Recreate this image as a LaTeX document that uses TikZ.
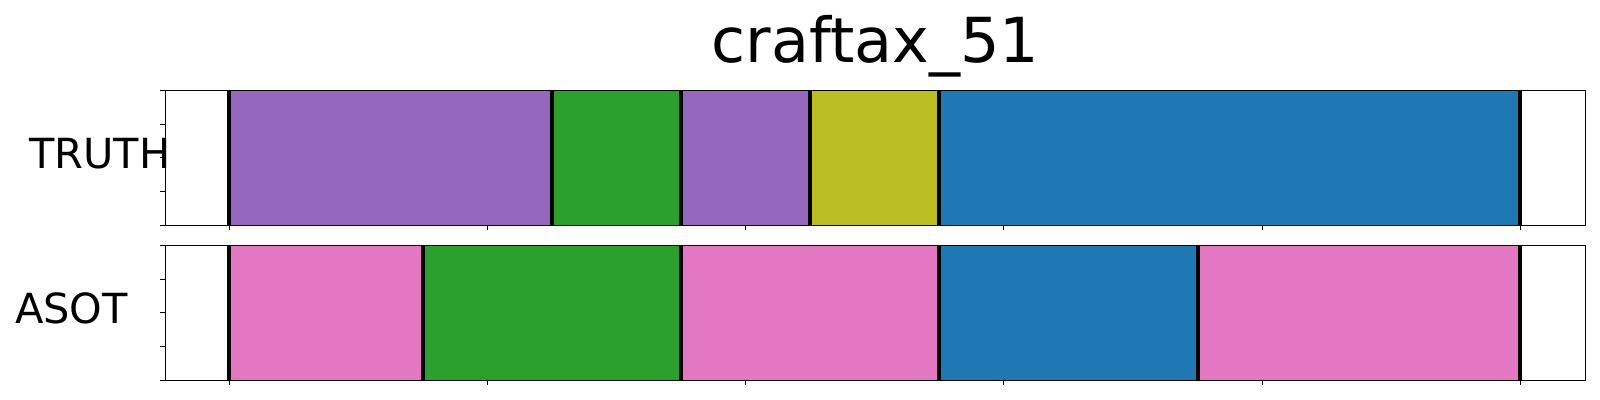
\documentclass[tikz,border=0pt]{standalone}
\usepackage{fontspec}
\setmainfont{DejaVu Sans}
\usepackage{xcolor}
\usepackage{tikz}
\usetikzlibrary{positioning}

\definecolor{segpurple}{HTML}{9467BD}
\definecolor{seggreen}{HTML}{2CA02C}
\definecolor{segolive}{HTML}{BCBD22}
\definecolor{segblue}{HTML}{1F77B4}
\definecolor{segpink}{HTML}{E377C2}

\begin{document}
\begin{tikzpicture}[
    x=0.01cm,
    y=-0.01cm,
    title/.style={
      font=\fontsize{17.65}{20}\selectfont,
      inner sep=0pt,
      anchor=base
    },
    rowlabel/.style={
      font=\fontsize{11.8}{13}\selectfont,
      inner sep=0pt,
      anchor=base west
    },
    seg/.style={line width=0.2pt},
    bound/.style={line width=1.12pt, black},
    frame/.style={line width=0.31pt, black},
    tick/.style={line width=0.28pt, black}
  ]
  \useasboundingbox (0,0) rectangle (1600,400);

  % ========== Title ==========
  \node[title] (ttl) at (875.5,62.3) {craftax\_51};

  % ========== Row: TRUTH ==========
  \node[rowlabel] (truth) at (28.5,168.3) {TRUTH};

  \filldraw[seg,fill=segpurple,draw=segpurple!85!black] (229.3,90.3) rectangle (552.1,225.3);
  \filldraw[seg,fill=seggreen,draw=seggreen!85!black] (552.1,90.3) rectangle (681.2,225.3);
  \filldraw[seg,fill=segpurple,draw=segpurple!85!black] (681.2,90.3) rectangle (810.2,225.3);
  \filldraw[seg,fill=segolive,draw=segolive!85!black] (810.2,90.3) rectangle (939.4,225.3);
  \filldraw[seg,fill=segblue,draw=segblue!85!black] (939.4,90.3) rectangle (1520.3,225.3);

  \foreach \bx in {229.3,552.1,681.2,810.2,939.4,1520.3}
    \draw[bound] (\bx,90.3) -- (\bx,225.3);

  \draw[frame] (165.3,90.3) rectangle (1585.7,225.3);
  \foreach \ty in {90.3,124.05,157.8,191.55,225.3}
    \draw[tick] (165.3,\ty) -- (160.3,\ty);
  \foreach \tx in {229.3,487.5,745.7,1003.9,1262.1,1520.3}
    \draw[tick] (\tx,225.3) -- (\tx,230.3);

  % ========== Row: ASOT ==========
  \node[rowlabel] (asot) at (14.5,323.3) {ASOT};

  \filldraw[seg,fill=segpink,draw=segpink!85!black] (229.3,245.3) rectangle (423.0,380.3);
  \filldraw[seg,fill=seggreen,draw=seggreen!85!black] (423.0,245.3) rectangle (681.2,380.3);
  \filldraw[seg,fill=segpink,draw=segpink!85!black] (681.2,245.3) rectangle (939.4,380.3);
  \filldraw[seg,fill=segblue,draw=segblue!85!black] (939.4,245.3) rectangle (1197.6,380.3);
  \filldraw[seg,fill=segpink,draw=segpink!85!black] (1197.6,245.3) rectangle (1520.3,380.3);

  \foreach \bx in {229.3,423.0,681.2,939.4,1197.6,1520.3}
    \draw[bound] (\bx,245.3) -- (\bx,380.3);

  \draw[frame] (165.3,245.3) rectangle (1585.7,380.3);
  \foreach \ty in {245.3,279.05,312.8,346.55,380.3}
    \draw[tick] (165.3,\ty) -- (160.3,\ty);
  \foreach \tx in {229.3,487.5,745.7,1003.9,1262.1,1520.3}
    \draw[tick] (\tx,380.3) -- (\tx,385.3);
\end{tikzpicture}
\end{document}
